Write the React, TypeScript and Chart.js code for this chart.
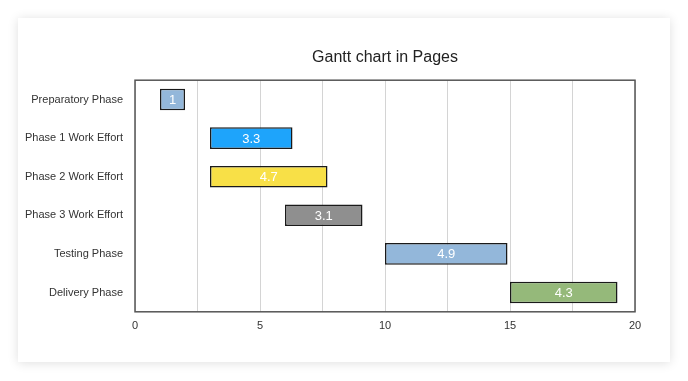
import React, { useEffect, useRef } from "react";
import { Chart, registerables } from "chart.js";

Chart.register(...registerables);

const categories = [
  "Preparatory Phase",
  "Phase 1 Work Effort",
  "Phase 2 Work Effort",
  "Phase 3 Work Effort",
  "Testing Phase",
  "Delivery Phase",
];
const starts = [1, 3, 3, 6, 10, 15];
const durations = [1, 3.3, 4.7, 3.1, 4.9, 4.3];
const barColors = ["#93b7da", "#1ea4fb", "#f8e047", "#8f8f8f", "#93b7da", "#95b97a"];
const xTicks = [0, 5, 10, 15, 20];
const titleText = "Gantt chart in Pages";

const FONT = "'Liberation Sans', Arial, Helvetica, sans-serif";

const frameAndLabels = {
  id: "frameAndLabels",
  afterDatasetsDraw(chart: any) {
    const ctx = chart.ctx;
    const meta = chart.getDatasetMeta(0);
    ctx.save();
    ctx.fillStyle = "#ffffff";
    ctx.font = `13px ${FONT}`;
    ctx.textAlign = "center";
    ctx.textBaseline = "middle";
    meta.data.forEach((bar: any, i: number) => {
      const cx = (bar.x + bar.base) / 2;
      ctx.fillText(String(durations[i]), cx, bar.y + 1);
    });
    ctx.restore();
  },
  afterDraw(chart: any) {
    const { ctx, chartArea } = chart;
    ctx.save();
    ctx.strokeStyle = "#555555";
    ctx.lineWidth = 1.5;
    ctx.strokeRect(chartArea.left, chartArea.top, chartArea.right - chartArea.left, chartArea.bottom - chartArea.top);
    ctx.restore();
  },
};

export default function App() {
  const canvasRef = useRef<HTMLCanvasElement | null>(null);

  useEffect(() => {
    document.body.style.margin = "0";
    document.body.style.background = "#ffffff";
    const canvas = canvasRef.current;
    if (!canvas) return;
    const chart = new Chart(canvas, {
      type: "bar",
      data: {
        labels: categories,
        datasets: [
          {
            data: starts.map((s, i) => [s, +(s + durations[i]).toFixed(2)]) as any,
            backgroundColor: barColors,
            borderColor: "#1a1a1a",
            borderWidth: 1.5,
            borderSkipped: false,
            barPercentage: 0.56,
            categoryPercentage: 1,
          },
        ],
      },
      options: {
        indexAxis: "y",
        responsive: false,
        animation: false,
        maintainAspectRatio: false,
        layout: { padding: { left: 0, right: 35, top: 0, bottom: 21 } },
        plugins: {
          legend: { display: false },
          tooltip: { enabled: false },
          title: {
            display: true,
            text: titleText,
            fullSize: false,
            color: "#222222",
            font: { family: FONT, size: 16, weight: "normal" as any },
            padding: { top: 30, bottom: 13 },
          },
        },
        scales: {
          x: {
            min: 0,
            max: 20,
            border: { display: false },
            grid: { color: "#d4d4d4", lineWidth: 1, drawTicks: false },
            ticks: {
              stepSize: 2.5,
              padding: 8,
              color: "#333333",
              font: { family: FONT, size: 11 },
              autoSkip: false,
              maxRotation: 0,
              callback: (v: any) => (xTicks.includes(Number(v)) ? String(v) : ""),
            },
          },
          y: {
            border: { display: false },
            grid: { display: false, drawTicks: false },
            ticks: {
              padding: 12,
              color: "#333333",
              font: { family: FONT, size: 11 },
            },
            afterFit: (scale: any) => {
              scale.width = 117;
            },
          },
        },
      },
      plugins: [frameAndLabels],
    });
    return () => chart.destroy();
  }, []);

  return (
    <div style={{ position: "relative", width: 688, height: 381, background: "#ffffff" }}>
      <div
        style={{
          position: "absolute",
          left: 18,
          top: 18,
          width: 652,
          height: 344,
          background: "#ffffff",
          boxShadow: "0 1px 10px rgba(0,0,0,0.13)",
        }}
      >
        <canvas ref={canvasRef} width={652} height={344} style={{ display: "block" }} />
      </div>
    </div>
  );
}
